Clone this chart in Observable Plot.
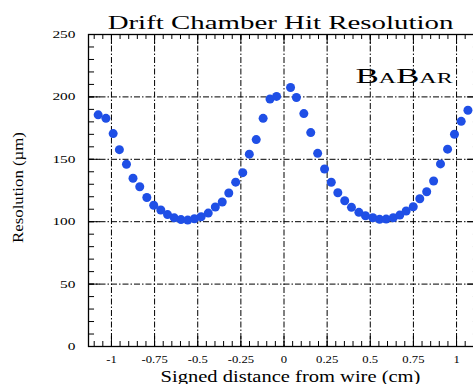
<!DOCTYPE html>
<html><head><meta charset="utf-8">
<script src="https://cdn.jsdelivr.net/npm/d3@7"></script>
<script src="https://cdn.jsdelivr.net/npm/@observablehq/plot@0.6"></script>
<style>
html,body{margin:0;padding:0;overflow:hidden;background:#fff;width:473px;height:384px}
#chart{width:473px;height:384px;overflow:hidden}
</style>
</head><body><div id="chart"></div>
<script>
const distance = [-1.077,-1.032,-0.990,-0.954,-0.913,-0.875,-0.836,-0.795,-0.755,-0.714,-0.675,-0.636,-0.597,-0.558,-0.519,-0.480,-0.439,-0.398,-0.358,-0.320,-0.280,-0.239,-0.201,-0.161,-0.121,-0.081,-0.043,0.038,0.072,0.115,0.155,0.195,0.235,0.274,0.312,0.352,0.391,0.434,0.472,0.515,0.554,0.592,0.633,0.671,0.708,0.749,0.787,0.827,0.867,0.907,0.948,0.988,1.027,1.066];
const resolution = [185.6,182.8,170.6,157.7,146.0,134.8,128.0,119.4,113.2,109.4,105.7,103.1,101.7,101.3,102.4,104.0,106.9,111.8,115.8,123.0,131.7,139.3,154.1,165.8,182.8,198.3,200.4,207.5,199.5,186.6,171.4,154.8,142.2,131.6,123.2,116.8,111.5,107.5,104.8,103.2,101.9,102.1,103.2,105.3,108.6,112.0,118.4,124.0,132.6,146.3,158.1,170.1,180.4,189.3];
const xTicks = [-1,-0.75,-0.5,-0.25,0,0.25,0.5,0.75,1];
const xTickLabels = ["-1","-0.75","-0.5","-0.25","0","0.25","0.5","0.75","1"];
const yTicks = [0,50,100,150,200,250];
const yTickLabels = ["0","50","100","150","200","250"];
const xDomain = [-1.133, 1.133];
const yDomain = [0, 250];
const titleText = "Drift Chamber Hit Resolution";
const xLabelText = "Signed distance from wire (cm)";
const yLabelText = "Resolution (µm)";
const logoText = "BaBar";

const points = distance.map((d, i) => ({d, r: resolution[i]}));
const xMinor = d3.range(-22, 23).map(i => +(i * 0.05).toFixed(2));
const yMinor = d3.range(0, 26).map(i => i * 10);
const dash = "6,2,1.5,2";

const chart = Plot.plot({
  width: 490, height: 384,
  marginLeft: 88, marginRight: 11, marginTop: 34, marginBottom: 38,
  style: {fontFamily: "'Liberation Serif', 'Times New Roman', serif", fontSize: "11px", background: "#fff", color: "#000", maxWidth: "none", overflow: "visible"},
  x: {domain: xDomain},
  y: {domain: yDomain},
  marks: [
    Plot.gridX(xTicks, {stroke: "#000", strokeOpacity: 1, strokeWidth: 1, strokeDasharray: dash}),
    Plot.gridY(yTicks.filter(v => v > 0 && v < 250), {stroke: "#000", strokeOpacity: 1, strokeWidth: 1, strokeDasharray: dash}),
    Plot.ruleX(xMinor, {y1: 0, y2: 4, stroke: "#000"}),
    Plot.ruleX(xMinor, {y1: 246, y2: 250, stroke: "#000"}),
    Plot.ruleX(xTicks, {y1: 0, y2: 8, stroke: "#000"}),
    Plot.ruleX(xTicks, {y1: 242, y2: 250, stroke: "#000"}),
    Plot.ruleY(yMinor, {x1: xDomain[0], x2: xDomain[0] + 0.035, stroke: "#000"}),
    Plot.ruleY(yMinor, {x1: xDomain[1] - 0.035, x2: xDomain[1], stroke: "#000"}),
    Plot.ruleY(yTicks, {x1: xDomain[0], x2: xDomain[0] + 0.07, stroke: "#000"}),
    Plot.ruleY(yTicks, {x1: xDomain[1] - 0.07, x2: xDomain[1], stroke: "#000"}),
    Plot.frame({stroke: "#000", strokeWidth: 1.3}),
    Plot.dot(points, {x: "d", y: "r", r: 4.5, fill: "#1f4fe6", stroke: "none"}),
    Plot.axisX(xTicks, {tickSize: 0, tickPadding: 9, tickFormat: (d, i) => xTickLabels[i], fontSize: 11, label: null}),
    Plot.axisY(yTicks, {tickSize: 0, tickPadding: 13, tickFormat: (d, i) => yTickLabels[i], fontSize: 11, label: null}),
    Plot.text([titleText], {frameAnchor: "top", textAnchor: "middle", dx: -3.5, dy: -19, fontSize: 19, fill: "#000"}),
    Plot.text([xLabelText], {frameAnchor: "bottom", textAnchor: "middle", dx: 6.5, dy: 35, fontSize: 16, fill: "#000"}),
    Plot.text([yLabelText], {frameAnchor: "left", textAnchor: "middle", rotate: -90, dx: -70.5, dy: -3, fontSize: 15, fill: "#000"}),
    Plot.text([logoText], {x: 0.414, y: 216.9, textAnchor: "start", fontVariant: "small-caps", fontSize: 22, fill: "#000"})
  ]
});
document.getElementById("chart").append(chart);

// horizontal stretch of the texts to match the reference's wide lettering
const targets = new Map([[titleText, 346], [xLabelText, 260], [yLabelText, 111], [logoText, 97]]);
chart.querySelectorAll("text").forEach(t => {
  const s = t.textContent;
  let w = 0;
  try { w = t.getComputedTextLength(); } catch (e) { w = 0; }
  if (!w) return;
  let k;
  if (targets.has(s)) k = targets.get(s) / w;
  else if (xTickLabels.includes(s) && !yTickLabels.includes(s)) k = 1.15;
  else if (yTickLabels.includes(s) && !xTickLabels.includes(s)) k = 1.4;
  else if (s === "0") {
    const g = t.closest("g");
    const lab = g ? (g.getAttribute("aria-label") || "") : "";
    k = lab.startsWith("y") ? 1.4 : 1.15;
  } else return;
  const tr = t.getAttribute("transform") || "";
  t.setAttribute("transform", tr + ` scale(${k.toFixed(4)},1)`);
});
</script>
</body></html>
